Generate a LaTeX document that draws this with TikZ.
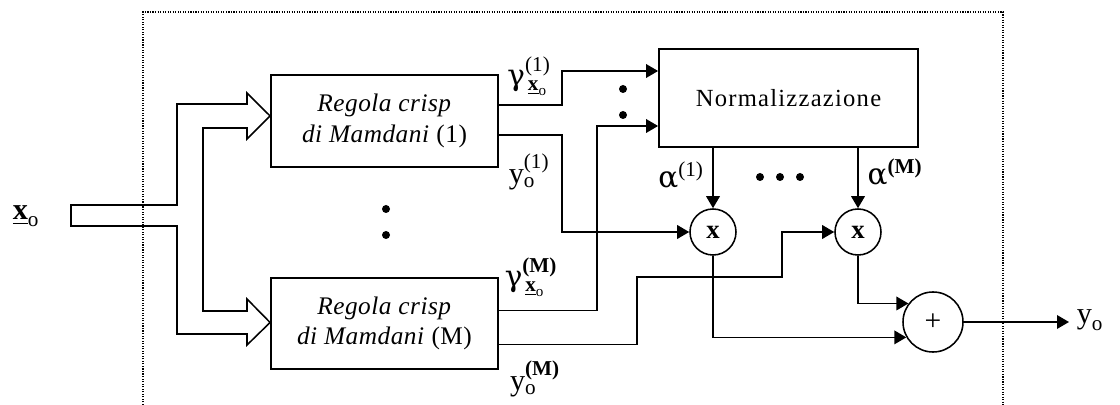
\documentclass[tikz,border=0pt]{standalone}
\usepackage{amsmath}
\usepackage{fontspec}
\setmainfont{Liberation Serif}
\newfontfamily\greekfont{DejaVu Serif}
\usetikzlibrary{arrows.meta,calc}

\newcommand{\gk}[1]{\text{\greekfont\fontsize{21}{23}\selectfont #1}}
\newcommand{\ux}{\underline{\text{\bfseries x}}}

\begin{document}
\begin{tikzpicture}[x=0.025cm,y=-0.025cm,line width=1.1pt,
    rule/.style={draw,minimum width=5.68cm,minimum height=2.3cm,align=center,
      font=\fontsize{18}{21.5}\selectfont\addfontfeatures{LetterSpace=2}},
    mult/.style={draw,circle,minimum size=1.15cm,inner sep=0pt,
      font=\bfseries\fontsize{19}{21}\selectfont},
    sig/.style={-{Triangle[length=3mm,width=3.4mm]}},
    lab/.style={font=\fontsize{21.5}{23}\selectfont,inner sep=0pt}]
\useasboundingbox (0,0) rectangle (1120,405);
% frame
\draw[densely dotted,line width=0.8pt] (143,405) -- (143,12) -- (1003,12) -- (1003,405);
% blocks
\node[rule] (r1) at (384.5,121) {\textit{Regola crisp}\\\textit{di Mamdani} (1)};
\node[rule,minimum height=2.28cm] (rM) at (384.5,323.5) {\textit{Regola crisp}\\\textit{di Mamdani} (M)};
\node[draw,minimum width=6.48cm,minimum height=2.45cm,
  font=\fontsize{17.5}{21}\selectfont\addfontfeatures{LetterSpace=5}] (norm) at (788.5,98) {Normalizzazione};
\node[mult] (m1) at (713,232) {x};
\node[mult] (mM) at (858,232) {x};
\node[draw,circle,minimum size=1.5cm,inner sep=0pt,font=\fontsize{21}{23}\selectfont] (sum) at (933,322) {+};
% input
\node[lab] (xin) at (26,216) {$\ux_{\text{o}}$};
\draw (71,205) -- (177,205) -- (177,104) -- (247,104) -- (247,93) -- ($(r1.west)+(0,-5)$)
  -- (247,139) -- (247,128) -- (203,128) -- (203,311) -- (247,311) -- (247,299)
  -- ($(rM.west)+(0,-1)$) -- (247,345) -- (247,334) -- (177,334) -- (177,226) -- (71,226) -- cycle;
% signals
\draw[sig] ($(r1.east)+(0,-16)$) -| (562,71) -- ($(norm.west)+(0,-27)$);
\draw[sig] ($(r1.east)+(0,14)$) -| (562,232) -- (m1.west);
\draw[sig] ($(rM.east)+(0,-13)$) -| (597,126) -- ($(norm.west)+(0,28)$);
\draw[sig] ($(rM.east)+(0,21)$) -| (637,277) -| (782,232) -- (mM.west);
\draw[sig] (norm.south -| m1.north) -- (m1.north);
\draw[sig] (norm.south -| mM.north) -- (mM.north);
\draw[sig] (m1.south) |- (sum.210);
\draw[sig] (mM.south) |- (sum.143);
\node[lab,inner sep=5pt] (yout) at (1090,320) {$\text{y}_{\text{o}}$};
\draw[sig] (sum.east) -- (yout.west |- sum.east);
% labels
\node[lab] (g1) at (529,76) {$\gk{γ}^{\text{(1)}}_{\kern2pt\ux_{\text{o}}}$};
\node[lab] (y1) at (529,172) {$\text{y}^{\text{(1)}}_{\text{o}}$};
\node[lab] (gM) at (531,277) {$\gk{γ}^{\text{\bfseries(M)}}_{\kern2pt\ux_{\text{o}}}$};
\node[lab] (yM) at (535,379) {$\text{y}^{\text{\bfseries(M)}}_{\text{o}}$};
\node[lab] (a1) at (681,175) {$\gk{α}^{\text{(1)}}$};
\node[lab] (aM) at (895,172) {$\gk{α}^{\text{\bfseries(M)}}$};
% dots
\foreach \p in {(386,209),(386,235),(623,89),(623,115),(760,177),(780,177),(800,177)}
  \fill \p circle (0.1cm);
\end{tikzpicture}
\end{document}
